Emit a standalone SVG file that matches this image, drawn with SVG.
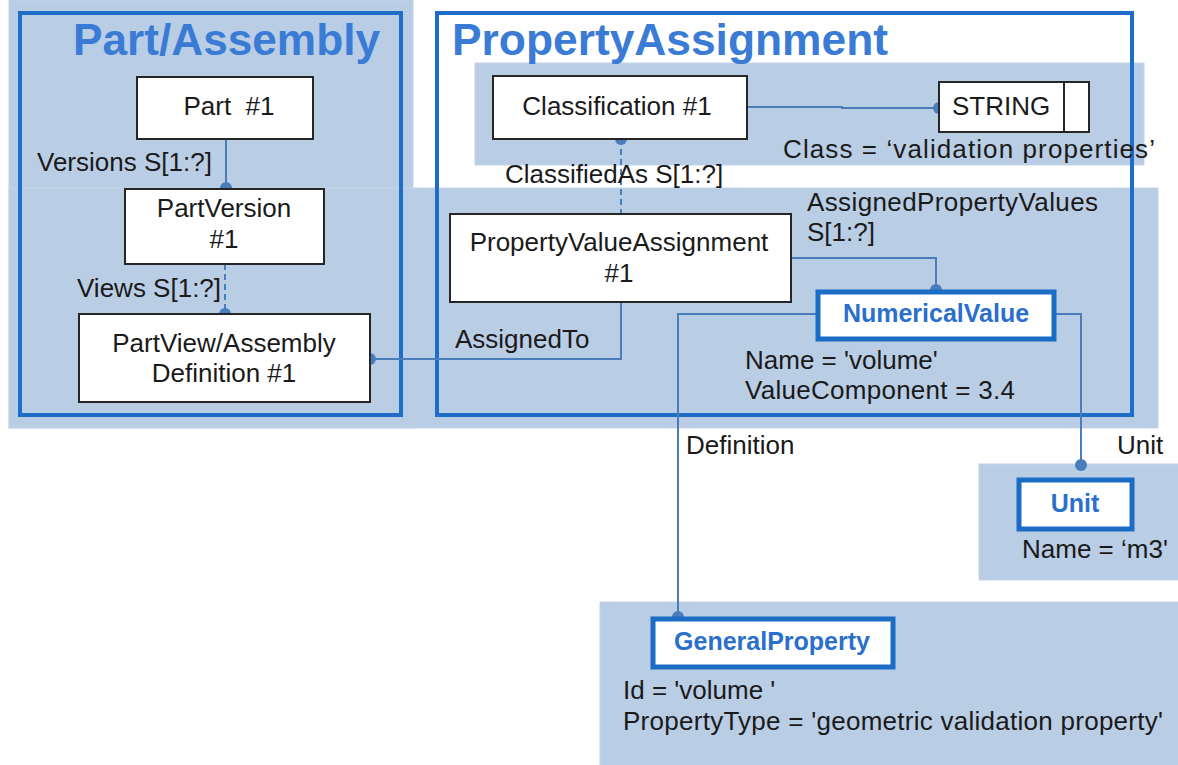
<svg xmlns="http://www.w3.org/2000/svg" width="1178" height="765" viewBox="0 0 1178 765">
<style>
text{font-family:"Liberation Sans",Arial,sans-serif;font-size:26px;fill:#1a1a1a}
.title{font-size:44px;font-weight:bold;fill:#3a7bd5}
.panel{fill:#b9cde5;stroke:#c4d5ea;stroke-width:1}
.frame{fill:none;stroke:#1e6ec8;stroke-width:4}
.box{fill:#fff;stroke:#262626;stroke-width:2}
.ebox{fill:#fff;stroke:#1b6cc4;stroke-width:5}
.en{font-weight:bold;fill:#2a6fcc;font-size:25px}
.mid{text-anchor:middle}
.conn{fill:none;stroke:#4a7ebb;stroke-width:2}
.dash{stroke-dasharray:6 4}
.dot{fill:#4a7ebb}
</style>
<rect width="1178" height="765" fill="#fff"/>
<g id="panels">
<rect class="panel" x="9" y="0" width="404" height="428"/>
<rect class="panel" x="9" y="188" width="1149" height="240"/>
<rect class="panel" x="475" y="63" width="669" height="102"/>
<rect class="panel" x="979" y="464" width="205" height="116"/>
<rect class="panel" x="600" y="602" width="584" height="170"/>
</g>
<g id="frame-part-assembly">
<rect class="frame" x="20" y="13" width="381" height="402"/>
<text class="title" x="73" y="55" textLength="307" lengthAdjust="spacingAndGlyphs">Part/Assembly</text>
</g>
<g id="frame-property-assignment">
<rect class="frame" x="437" y="13" width="695" height="402"/>
<text class="title" x="452" y="55" textLength="436" lengthAdjust="spacingAndGlyphs">PropertyAssignment</text>
</g>
<g id="connectors">
<polyline class="conn" points="226,139 226,188"/>
<polyline class="conn dash" points="225,264 225,314"/>
<polyline class="conn" points="370,359 621,359 621,302"/>
<polyline class="conn dash" points="621,139 621,214"/>
<polyline class="conn" points="747,107 842,107 842,108 939,108"/>
<polyline class="conn" points="791,258 936,258 936,290"/>
<polyline class="conn" points="816,314 678,314 678,617"/>
<polyline class="conn" points="1056,314 1081,314 1081,465"/>
<circle class="dot" cx="226" cy="188" r="6"/>
<circle class="dot" cx="225" cy="314" r="6"/>
<circle class="dot" cx="370" cy="359" r="6"/>
<circle class="dot" cx="621" cy="139" r="6"/>
<circle class="dot" cx="939" cy="108" r="6"/>
<circle class="dot" cx="936" cy="290" r="6"/>
<circle class="dot" cx="678" cy="617" r="6"/>
<circle class="dot" cx="1081" cy="465" r="6"/>
<text x="37" y="171">Versions S[1:?]</text>
<text x="77" y="297">Views S[1:?]</text>
<text x="505" y="183">ClassifiedAs S[1:?]</text>
<text x="455" y="348">AssignedTo</text>
<text x="807" y="211" textLength="291">AssignedPropertyValues</text>
<text x="807" y="241">S[1:?]</text>
<text x="686" y="454">Definition</text>
<text x="1117" y="454">Unit</text>
</g>
<g id="node-part">
<rect class="box" x="137" y="77" width="176" height="62"/>
<text class="mid" x="229" y="115" xml:space="preserve">Part  #1</text>
</g>
<g id="node-partversion">
<rect class="box" x="125" y="189" width="199" height="75"/>
<text class="mid" x="224" y="217">PartVersion</text>
<text class="mid" x="224" y="248">#1</text>
</g>
<g id="node-partview">
<rect class="box" x="79" y="314" width="291" height="88"/>
<text class="mid" x="224" y="352">PartView/Assembly</text>
<text class="mid" x="224" y="382">Definition #1</text>
</g>
<g id="node-classification">
<rect class="box" x="493" y="76" width="254" height="63"/>
<text class="mid" x="617" y="115">Classification #1</text>
</g>
<g id="node-string">
<rect class="box" x="939" y="82" width="150" height="50"/>
<line x1="1064" y1="82" x2="1064" y2="132" stroke="#262626" stroke-width="2"/>
<text x="952" y="115">STRING</text>
<text x="783" y="158" textLength="372">Class = ‘validation properties’</text>
</g>
<g id="node-pva">
<rect class="box" x="450" y="214" width="341" height="88"/>
<text class="mid" x="619" y="251">PropertyValueAssignment</text>
<text class="mid" x="619" y="282">#1</text>
</g>
<g id="node-numericalvalue">
<rect class="ebox" x="818" y="292" width="236" height="47"/>
<text class="en mid" x="936" y="322">NumericalValue</text>
<text x="745" y="369">Name = 'volume'</text>
<text x="745" y="399" textLength="270">ValueComponent = 3.4</text>
</g>
<g id="node-unit">
<rect class="ebox" x="1019" y="480" width="113" height="49"/>
<text class="en mid" x="1075" y="512">Unit</text>
<text x="1022" y="558">Name = ‘m3'</text>
</g>
<g id="node-generalproperty">
<rect class="ebox" x="653" y="619" width="240" height="48"/>
<text class="en mid" x="772" y="650">GeneralProperty</text>
<text x="623" y="699">Id = 'volume '</text>
<text x="623" y="730" textLength="540">PropertyType = 'geometric validation property'</text>
</g>
</svg>
